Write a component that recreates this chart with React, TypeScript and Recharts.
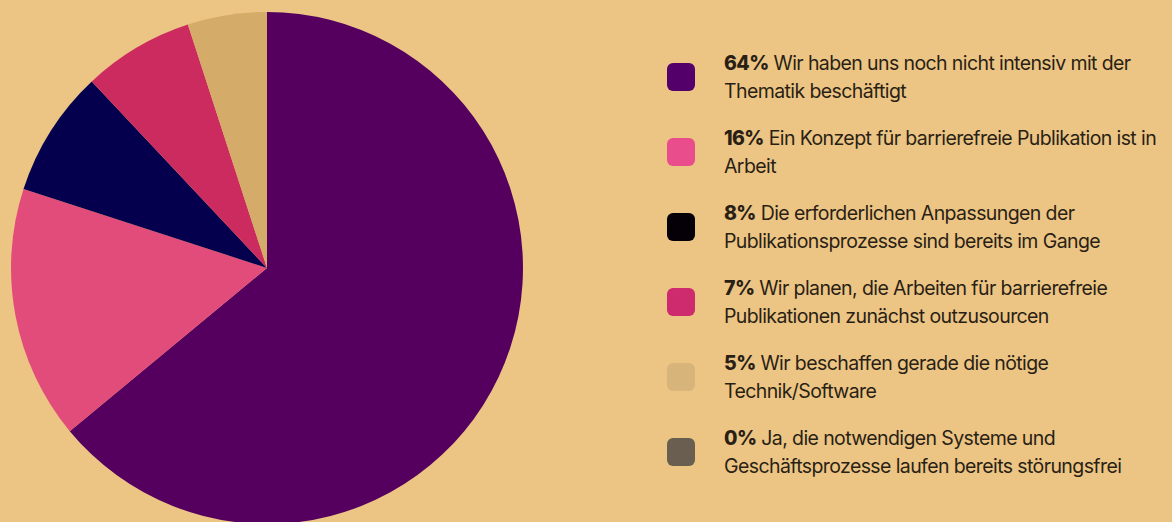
import { PieChart, Pie, Cell } from "recharts";

const shares = [64, 16, 8, 7, 5, 0];
const labels = [
  "Wir haben uns noch nicht intensiv mit der Thematik beschäftigt",
  "Ein Konzept für barrierefreie Publikation ist in Arbeit",
  "Die erforderlichen Anpassungen der Publikationsprozesse sind bereits im Gange",
  "Wir planen, die Arbeiten für barrierefreie Publikationen zunächst outzusourcen",
  "Wir beschaffen gerade die nötige Technik/Software",
  "Ja, die notwendigen Systeme und Geschäftsprozesse laufen bereits störungsfrei",
];
const labelLines = [
  ["Wir haben uns noch nicht intensiv mit der", "Thematik beschäftigt"],
  ["Ein Konzept für barrierefreie Publikation ist in", "Arbeit"],
  ["Die erforderlichen Anpassungen der", "Publikationsprozesse sind bereits im Gange"],
  ["Wir planen, die Arbeiten für barrierefreie", "Publikationen zunächst outzusourcen"],
  ["Wir beschaffen gerade die nötige", "Technik/Software"],
  ["Ja, die notwendigen Systeme und", "Geschäftsprozesse laufen bereits störungsfrei"],
];
const sliceColors = ["#55005F", "#E24C7B", "#04004D", "#CC2B5F", "#D4AB68", "#6B6050"];
const legendColors = ["#54006A", "#E94D8C", "#050008", "#CE2A6E", "#D7B57A", "#6A5E50"];

const data = shares.map((value, i) => ({ name: labels[i], value }));

const font = "Inter, 'Open Sans', sans-serif";

function LegendBox() {
  return (
    <div
      style={{
        position: "absolute",
        left: 667,
        top: 39,
        width: 505,
        fontFamily: font,
        color: "#2A1F14",
      }}
    >
      {shares.map((v, i) => (
        <div key={i} style={{ display: "flex", alignItems: "center", height: 75 }}>
          <div
            style={{
              width: 28,
              height: 28,
              borderRadius: 6,
              background: legendColors[i],
              marginRight: 29,
              flexShrink: 0,
            }}
          />
          <div style={{ fontSize: 19.5, lineHeight: "28px", letterSpacing: -0.6, whiteSpace: "nowrap" }}>
            <div>
              <b style={{ fontWeight: 800 }}>{v}%</b> {labelLines[i][0]}
            </div>
            <div>{labelLines[i][1]}</div>
          </div>
        </div>
      ))}
    </div>
  );
}

export default function App() {
  return (
    <div
      style={{
        position: "absolute",
        left: 0,
        top: 0,
        width: 1172,
        height: 522,
        background: "#ECC585",
        overflow: "hidden",
      }}
    >
      <PieChart width={540} height={522} margin={{ top: 0, right: 0, bottom: 0, left: 0 }}>
        <Pie
          data={data}
          dataKey="value"
          nameKey="name"
          cx={267}
          cy={268}
          outerRadius={256}
          startAngle={90}
          endAngle={-270}
          stroke="none"
          isAnimationActive={false}
        >
          {data.map((entry, i) => (
            <Cell key={`cell-${i}`} fill={sliceColors[i]} />
          ))}
        </Pie>
      </PieChart>
      <LegendBox />
    </div>
  );
}
